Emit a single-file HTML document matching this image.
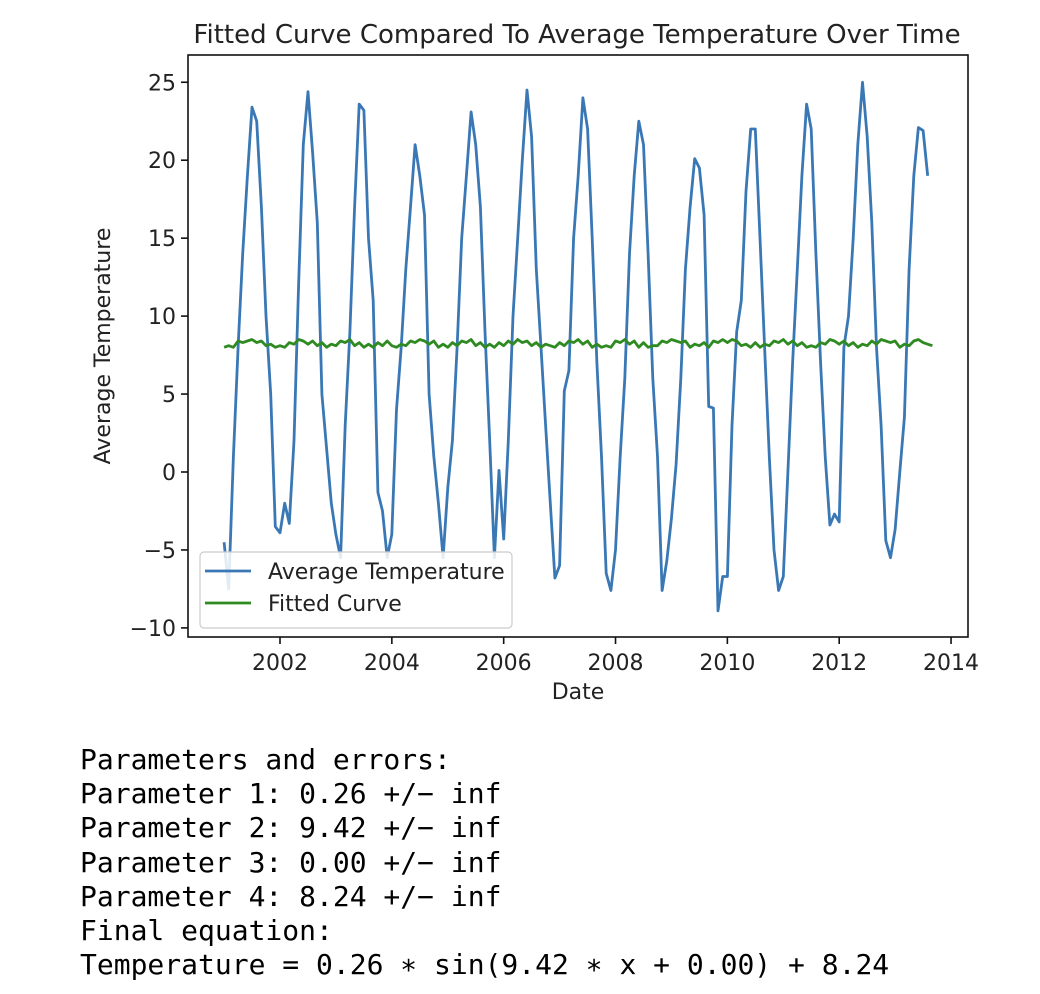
<!DOCTYPE html>
<html><head><meta charset="utf-8"><style>
body{margin:0;background:#fff;width:1040px;height:994px;overflow:hidden}
svg text{font-family:"DejaVu Sans","Liberation Sans",sans-serif;fill:#222}
#out{position:absolute;left:80px;top:743px;font-family:"DejaVu Sans Mono","Liberation Mono",monospace;font-size:28px;line-height:34.2px;white-space:pre;color:#000;margin:0}
</style></head><body>
<svg id="chart" width="1040" height="720" style="position:absolute;left:0;top:0"></svg>
<pre id="out">Parameters and errors:
Parameter 1: 0.26 +/− inf
Parameter 2: 9.42 +/− inf
Parameter 3: 0.00 +/− inf
Parameter 4: 8.24 +/− inf
Final equation:
Temperature = 0.26 ∗ sin(9.42 ∗ x + 0.00) + 8.24</pre>
<script>
const startYear = 2001;
const avgTemp = [
-4.5,-7.5,1,8,14,19,23.4,22.5,17,10,5,-3.5,
-3.9,-2,-3.3,2,12,21,24.4,20.5,16,5,1.5,-2,
-4,-5.5,3,9,17,23.6,23.2,15,11,-1.3,-2.5,-5.5,
-4,4,8,13,17,21,19,16.5,5,1,-2,-5.5,
-1,2,8,15,19,23.1,21,17,9,2,-5.5,0.1,
-4.3,2,10,15,20,24.5,21.5,13,8,3,-2,-6.8,
-6,5.2,6.5,15,19,24,22,15,7,1,-6.5,-7.6,
-5,1,6,14,19,22.5,21,14,6,1,-7.6,-5.7,
-3,0.5,6,13,17,20.1,19.5,16.5,4.2,4.1,-8.9,-6.7,
-6.7,3,9,11,18,22,22,15,8,1,-5,-7.6,
-6.7,0,7,13,19,23.6,22,14,7,1,-3.4,-2.7,
-3.2,8,10,15,21,25,21.5,16,8,3,-4.4,-5.5,
-3.7,0,3.5,13,19,22.1,21.9,19];
const fitted = [
8.0,8.1,8.0,8.4,8.3,8.4,8.5,8.3,8.4,8.1,8.2,8.0,
8.1,8.0,8.3,8.2,8.5,8.4,8.2,8.4,8.1,8.3,8.0,8.2,
8.1,8.4,8.3,8.5,8.1,8.3,8.0,8.2,8.0,8.3,8.1,8.4,
8.1,8.0,8.2,8.1,8.4,8.3,8.5,8.4,8.2,8.4,8.0,8.2,
8.0,8.3,8.1,8.4,8.3,8.5,8.1,8.3,8.0,8.2,8.0,8.3,
8.1,8.4,8.2,8.5,8.3,8.4,8.1,8.3,8.0,8.2,8.1,8.0,
8.3,8.1,8.4,8.3,8.5,8.2,8.4,8.0,8.2,8.0,8.1,8.0,
8.4,8.3,8.5,8.2,8.4,8.0,8.3,8.0,8.1,8.1,8.4,8.3,
8.5,8.4,8.3,8.4,8.0,8.2,8.1,8.3,8.0,8.4,8.3,8.5,
8.3,8.5,8.4,8.1,8.2,8.0,8.3,8.0,8.2,8.1,8.4,8.3,
8.5,8.2,8.4,8.1,8.3,8.0,8.1,8.0,8.3,8.2,8.5,8.4,
8.2,8.4,8.1,8.3,8.0,8.2,8.1,8.4,8.2,8.5,8.4,8.3,
8.4,8.0,8.2,8.1,8.4,8.5,8.3,8.2,8.1];
const yTicks = [-10,-5,0,5,10,15,20,25];
const xTicks = [2002,2004,2006,2008,2010,2012,2014];

const L=188,R=968,T=55,B=637;
const X=v=>280+(v-2002)*55.92;
const Y=v=>472-v*15.59;
const svg=document.getElementById('chart');
const NS='http://www.w3.org/2000/svg';
function mk(tag,attrs,parent){const e=document.createElementNS(NS,tag);for(const k in attrs)e.setAttribute(k,attrs[k]);(parent||svg).appendChild(e);return e;}

function path(arr,color,name){
  const d=arr.map((v,i)=>(i?'L':'M')+X(startYear+i/12).toFixed(1)+','+Y(v).toFixed(1)).join('');
  const p=mk('path',{d:d,fill:'none',stroke:color,'stroke-width':2.8,'stroke-linejoin':'round'});
  
  
}
path(avgTemp,'#3a78b5','average-temperature-line');
path(fitted,'#2f8a22','fitted-curve-line');

const frame=mk('rect',{x:L,y:T,width:R-L,height:B-T,fill:'none',stroke:'#111','stroke-width':1.6});



yTicks.forEach(v=>{
  mk('line',{x1:L-7,x2:L,y1:Y(v),y2:Y(v),stroke:'#111','stroke-width':1.6});
  const t=mk('text',{x:L-12,y:Y(v)+8,'text-anchor':'end','font-size':22});
  t.textContent=(v<0?'\u2212'+(-v):v);
  
  
});
xTicks.forEach(v=>{
  mk('line',{x1:X(v),x2:X(v),y1:B,y2:B+7,stroke:'#111','stroke-width':1.6});
  const t=mk('text',{x:X(v),y:B+33,'text-anchor':'middle','font-size':22});
  t.textContent=v;
  
  
});

const title=mk('text',{x:577,y:43,'text-anchor':'middle','font-size':26});
title.textContent='Fitted Curve Compared To Average Temperature Over Time';


const xt=mk('text',{x:578,y:699,'text-anchor':'middle','font-size':22});
xt.textContent='Date';


const yt=mk('text',{x:0,y:0,'text-anchor':'middle','font-size':22,transform:'translate(110,346) rotate(-90)'});
yt.textContent='Average Temperature';



const lg=mk('g',{});


mk('rect',{x:200,y:552,width:312,height:76,rx:4,fill:'#fff','fill-opacity':0.85,stroke:'#ccc','stroke-width':1.2},lg);
mk('line',{x1:205,x2:251,y1:571,y2:571,stroke:'#3a78b5','stroke-width':2.8},lg);
mk('line',{x1:205,x2:251,y1:603,y2:603,stroke:'#2f8a22','stroke-width':2.8},lg);
const l1=mk('text',{x:268,y:579,'font-size':22},lg);
l1.textContent='Average Temperature';


const l2=mk('text',{x:268,y:611,'font-size':22},lg);
l2.textContent='Fitted Curve';


</script>
</body></html>
